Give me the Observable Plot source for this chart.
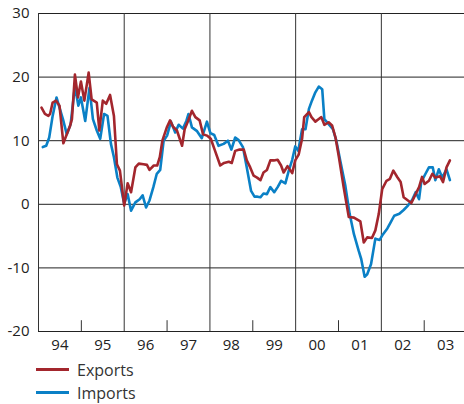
<!DOCTYPE html>
<html>
<head>
<meta charset="utf-8">
<script src="https://cdn.jsdelivr.net/npm/d3@7"></script>
<script src="https://cdn.jsdelivr.net/npm/@observablehq/plot@0.6"></script>
<style>
  html, body { margin: 0; padding: 0; background: #fff; }
  body { width: 464px; height: 404px; overflow: hidden; font-family: "Open Sans", sans-serif; }
  #legend { margin-left: 36px; margin-top: 0px; color: #333; font-size: 16px; }
  .item { display: flex; align-items: center; height: 23px; }
  .sw { width: 33px; height: 3px; margin-right: 8px; }
</style>
</head>
<body>
<div id="chart"></div>
<div id="legend"></div>
<script>
// Year-on-year change, per cent (decimal year positions)
const exportsT = [1994.07,1994.15,1994.23,1994.27,1994.33,1994.41,1994.49,1994.58,1994.66,1994.74,1994.78,1994.85,1994.92,1994.99,
  1995.07,1995.17,1995.24,1995.36,1995.42,1995.50,1995.58,1995.67,1995.76,1995.83,1995.90,1996.00,
  1996.08,1996.16,1996.26,1996.34,1996.45,1996.53,1996.59,1996.69,1996.77,1996.83,1996.89,1997.00,
  1997.07,1997.14,1997.23,1997.35,1997.41,1997.49,1997.58,1997.66,1997.76,1997.84,1997.93,1998.02,
  1998.12,1998.24,1998.33,1998.44,1998.51,1998.59,1998.69,1998.79,1998.86,1998.94,1999.02,
  1999.10,1999.18,1999.25,1999.33,1999.41,1999.49,1999.58,1999.66,1999.72,1999.81,1999.92,1999.99,
  2000.07,2000.15,2000.20,2000.31,2000.37,2000.46,2000.54,2000.60,2000.67,2000.77,2000.85,2000.93,2001.01,
  2001.12,2001.24,2001.36,2001.51,2001.59,2001.67,2001.78,2001.86,2001.94,2002.02,
  2002.12,2002.20,2002.28,2002.37,2002.45,2002.52,2002.62,2002.70,2002.80,2002.88,2002.95,2003.01,
  2003.11,2003.19,2003.26,2003.37,2003.44,2003.52,2003.60];
const exportsV = [15.2,14.2,13.9,14.2,16.0,16.3,15.5,9.6,11.0,12.4,13.4,20.4,16.8,19.3,
  16.3,20.7,16.5,16.0,11.6,16.3,15.8,17.2,13.9,6.3,5.3,-0.2,
  3.3,1.9,5.8,6.4,6.3,6.2,5.4,6.1,6.1,7.4,10.0,12.2,
  13.2,12.2,11.6,9.2,11.8,13.1,14.7,13.7,13.2,11.0,10.8,10.3,
  8.4,6.1,6.5,6.7,6.5,8.4,8.6,8.6,6.9,5.8,4.5,
  4.2,3.8,5.0,5.4,6.9,6.9,7.0,6.1,5.0,6.0,4.9,6.9,
  7.8,10.3,13.7,14.5,13.7,13.0,13.4,13.7,12.5,12.9,12.4,10.5,7.4,
  2.7,-2.0,-2.1,-2.7,-6.0,-5.2,-5.3,-4.1,-1.5,2.4,
  3.7,4.0,5.3,4.3,3.5,1.1,0.6,0.2,1.6,2.7,4.3,3.2,
  3.7,4.8,4.2,4.4,3.5,5.8,6.9];

const importsT = [1994.10,1994.18,1994.25,1994.33,1994.42,1994.49,1994.57,1994.66,1994.75,1994.85,1994.93,1994.99,
  1995.09,1995.19,1995.27,1995.36,1995.44,1995.53,1995.61,1995.69,1995.76,1995.84,1995.92,1996.00,
  1996.08,1996.16,1996.26,1996.36,1996.43,1996.51,1996.59,1996.68,1996.76,1996.84,1996.92,1997.00,
  1997.09,1997.19,1997.27,1997.37,1997.45,1997.50,1997.58,1997.70,1997.81,1997.93,1998.01,
  1998.10,1998.20,1998.32,1998.42,1998.50,1998.59,1998.67,1998.77,1998.86,1998.96,1999.04,
  1999.11,1999.18,1999.25,1999.33,1999.41,1999.50,1999.58,1999.66,1999.76,1999.84,1999.92,1999.99,
  2000.06,2000.15,2000.23,2000.31,2000.38,2000.46,2000.54,2000.62,2000.67,2000.77,2000.87,2000.95,
  2001.04,2001.16,2001.26,2001.36,2001.47,2001.53,2001.61,2001.67,2001.76,2001.86,2001.96,
  2002.04,2002.14,2002.22,2002.30,2002.42,2002.52,2002.62,2002.72,2002.80,2002.88,2002.93,2003.03,
  2003.11,2003.20,2003.26,2003.34,2003.42,2003.52,2003.60];
const importsV = [9.0,9.2,10.5,13.9,16.8,15.2,13.4,11.0,12.6,18.6,15.5,16.8,
  13.1,18.3,13.4,11.6,10.3,14.2,13.9,9.5,7.4,4.2,2.7,0.1,
  1.6,-1.0,0.3,0.8,1.4,-0.5,0.6,2.7,4.8,5.4,10.0,10.8,
  13.0,11.3,12.5,11.9,13.1,14.2,12.1,11.5,10.4,13.0,11.2,
  10.9,9.2,9.5,10.0,8.6,10.5,10.1,9.0,5.8,2.1,1.2,
  1.2,1.1,1.7,1.6,2.7,1.9,2.7,3.7,3.3,5.3,7.0,9.1,
  8.4,11.8,11.8,15.0,16.3,17.6,18.5,18.1,13.4,12.6,11.8,10.0,
  6.9,2.9,-1.5,-4.7,-7.3,-8.6,-11.4,-11.0,-9.4,-5.4,-5.6,
  -4.7,-3.8,-2.8,-1.8,-1.5,-0.9,-0.2,0.7,1.9,0.8,3.5,
  4.8,5.8,5.8,3.8,5.5,4.2,5.5,3.8];

const yTicks = [-20,-10,0,10,20,30];
const yearLabels = ["94","95","96","97","98","99","00","01","02","03"];
const yearStarts = [1994,1995,1996,1997,1998,1999,2000,2001,2002,2003];
const fullLines = [1996,1998,2000,2002];
const shortTicks = [1995,1997,1999,2001,2003];

const series = [
  {name:"Exports", color:"#a3262d", t:exportsT, v:exportsV},
  {name:"Imports", color:"#0a80c6", t:importsT, v:importsV}
];
const toRows = s => s.t.map((t,i)=>({t, v:s.v[i]}));

const textColor = "#222";
const chart = Plot.plot({
  width: 464, height: 358,
  marginLeft: 38, marginRight: 0, marginTop: 13, marginBottom: 27,
  style: {fontFamily: "Open Sans, sans-serif", fontSize: "15px", color: textColor, background: "#fff"},
  x: {domain: [1994, 2003.94], axis: null},
  y: {domain: [-20, 30], axis: null},
  marks: [
    Plot.ruleY(yTicks, {stroke: "#222", strokeWidth: 1}),
    Plot.ruleX([1994], {stroke: "#333", strokeWidth: 1}),
    Plot.ruleX(fullLines, {stroke: "#333", strokeWidth: 1}),
    Plot.ruleX(shortTicks, {y1: -20, y2: -18.3, stroke: "#333", strokeWidth: 1}),
    Plot.text(yTicks, {x: () => 1994, y: d => d, text: d => String(d), dx: -9, textAnchor: "end", fill: textColor, fontSize: 15}),
    Plot.text(yearLabels, {x: (d,i) => yearStarts[i] + 0.5, y: () => -20, text: d => d, dy: 14, lineAnchor: "middle", fill: textColor, fontSize: 15}),
    Plot.line(toRows(series[1]), {x: "t", y: "v", stroke: series[1].color, strokeWidth: 2.6, strokeLinejoin: "round"}),
    Plot.line(toRows(series[0]), {x: "t", y: "v", stroke: series[0].color, strokeWidth: 2.6, strokeLinejoin: "round"})
  ]
});
document.getElementById("chart").appendChild(chart);

const legend = document.getElementById("legend");
for (const s of series) {
  const it = document.createElement("div");
  it.className = "item";
  const sw = document.createElement("span");
  sw.className = "sw"; sw.style.background = s.color;
  const lb = document.createElement("span");
  lb.textContent = s.name;
  it.appendChild(sw); it.appendChild(lb);
  legend.appendChild(it);
}
</script>
</body>
</html>
